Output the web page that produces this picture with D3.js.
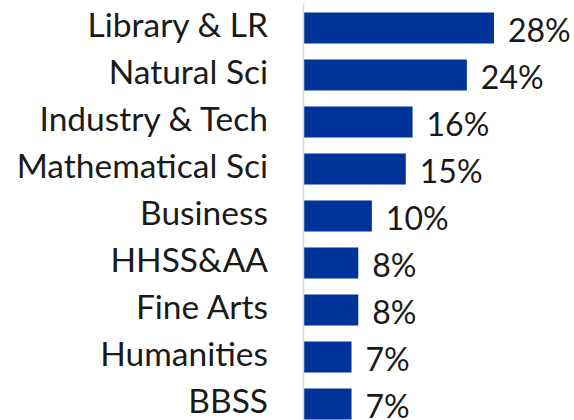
<!DOCTYPE html>
<html>
<head>
<meta charset="utf-8">
<script src="https://cdn.jsdelivr.net/npm/d3@7"></script>
<style>
  html, body { margin: 0; padding: 0; background: #fff; }
  svg { display: block; }
</style>
</head>
<body>
<svg id="chart" width="574" height="420"></svg>
<script>
const categories = ["Library & LR", "Natural Sci", "Industry & Tech", "Mathematical Sci", "Business", "HHSS&AA", "Fine Arts", "Humanities", "BBSS"];
const values = [28, 24, 16, 15, 10, 8, 8, 7, 7];
const valueLabels = ["28%", "24%", "16%", "15%", "10%", "8%", "8%", "7%", "7%"];

const svg = d3.select("#chart");
const fontFamily = "Lato, 'Open Sans', sans-serif";

const x = d3.scaleLinear().domain([0, 28]).range([304, 494]);
const y = d3.scaleBand().domain(categories).range([4.5, 427.5]).paddingInner(0.34).paddingOuter(0.17);

// bars
svg.selectAll("rect.bar").data(values).enter().append("rect")
  .attr("class", "bar")
  .attr("x", x(0))
  .attr("y", (d, i) => y(categories[i]))
  .attr("width", d => x(d) - x(0))
  .attr("height", y.bandwidth())
  .attr("fill", "#003399");

// axis line
svg.append("line")
  .attr("x1", 303.5).attr("x2", 303.5)
  .attr("y1", y.range()[0]).attr("y2", y.range()[1])
  .attr("stroke", "#d9d9d9").attr("stroke-width", 1.5);

// category labels
svg.selectAll("text.cat").data(categories).enter().append("text")
  .attr("class", "cat")
  .attr("x", 268)
  .attr("y", d => y(d) + y.bandwidth() / 2 + 9.3)
  .attr("text-anchor", "end")
  .attr("font-family", fontFamily)
  .attr("font-size", 33.5)
  .attr("fill", "#1a1a1a")
  .text(d => d);

// value labels
svg.selectAll("text.val").data(values).enter().append("text")
  .attr("class", "val")
  .attr("x", d => x(d) + 14)
  .attr("y", (d, i) => y(categories[i]) + y.bandwidth() / 2 + 13.5)
  .attr("font-family", fontFamily)
  .attr("font-size", 32)
  .attr("fill", "#1a1a1a")
  .text((d, i) => valueLabels[i]);
</script>
</body>
</html>
